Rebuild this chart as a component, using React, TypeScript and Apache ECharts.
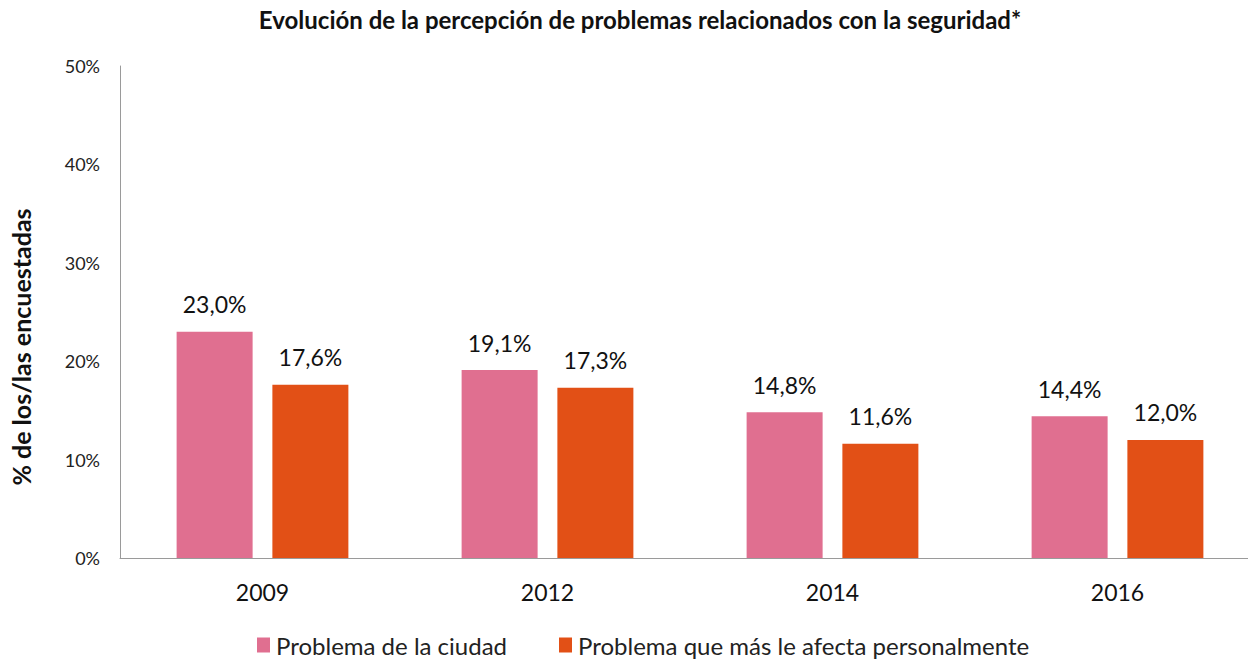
import React, { useEffect, useRef } from "react";
import * as echarts from "echarts";

const years = ["2009", "2012", "2014", "2016"];
const ciudad = [23.0, 19.1, 14.8, 14.4];
const personal = [17.6, 17.3, 11.6, 12.0];
const seriesNames = ["Problema de la ciudad", "Problema que más le afecta personalmente"];
const titleText = "Evolución de la percepción de problemas relacionados con la seguridad*";
const yAxisTitle = "% de los/las encuestadas";

const FONT = "Lato, 'Open Sans', sans-serif";

export default function App() {
  const ref = useRef<HTMLDivElement>(null);
  useEffect(() => {
    const chart = echarts.init(ref.current!, null, { renderer: "svg" });
    const fmt = (p: any) => Number(p.value).toFixed(1).replace(".", ",") + "%";
    chart.setOption({
      animation: false,
      backgroundColor: "#ffffff",
      title: {
        text: titleText,
        left: 635,
        textAlign: "center",
        top: 2,
        textStyle: { fontFamily: FONT, fontWeight: "bold", fontSize: 24, color: "#111" },
      },
      graphic: [
        {
          type: "text",
          x: 21,
          y: 347,
          rotation: Math.PI / 2,
          style: {
            text: yAxisTitle,
            font: `bold 25px ${FONT}`,
            fill: "#111",
            textAlign: "center",
            textVerticalAlign: "middle",
          },
        },
      ],
      legend: {
        top: 633,
        left: 257,
        padding: 0,
        itemWidth: 13,
        itemHeight: 15,
        itemGap: 52,
        icon: "rect",
        textStyle: { fontFamily: FONT, fontSize: 24, lineHeight: 24, color: "#222", padding: [0, 0, 0, 1] },
        data: seriesNames,
      },
      grid: { left: 120, right: 12, top: 66, bottom: 103, containLabel: false },
      xAxis: {
        type: "category",
        data: years,
        axisLine: { lineStyle: { color: "#9a9a9a", width: 1 } },
        axisTick: { show: false },
        axisLabel: { fontFamily: FONT, fontSize: 23, color: "#111", margin: 22 },
      },
      yAxis: {
        type: "value",
        min: 0,
        max: 50,
        interval: 10,
        axisLine: { show: true, lineStyle: { color: "#9a9a9a", width: 1 } },
        axisTick: { show: false },
        splitLine: { show: false },
        axisLabel: { fontFamily: FONT, fontSize: 18, color: "#222", margin: 20, formatter: "{value}%" },
      },
      series: [
        {
          name: seriesNames[0],
          type: "bar",
          data: ciudad,
          barWidth: 76,
          barGap: "26%",
          itemStyle: { color: "#E06F90" },
          label: { show: true, position: "top", distance: 16, fontFamily: FONT, fontSize: 23, color: "#111", formatter: fmt },
        },
        {
          name: seriesNames[1],
          type: "bar",
          data: personal,
          barWidth: 76,
          itemStyle: { color: "#E25016" },
          label: { show: true, position: "top", distance: 16, fontFamily: FONT, fontSize: 23, color: "#111", formatter: fmt },
        },
      ],
    });
    return () => chart.dispose();
  }, []);
  return (
    <div style={{ position: "fixed", left: 0, top: 0, width: 1248, height: 661, overflow: "hidden", background: "#fff" }}>
      <div ref={ref} style={{ position: "absolute", left: 0, top: 0, width: 1272, height: 661 }} />
    </div>
  );
}
